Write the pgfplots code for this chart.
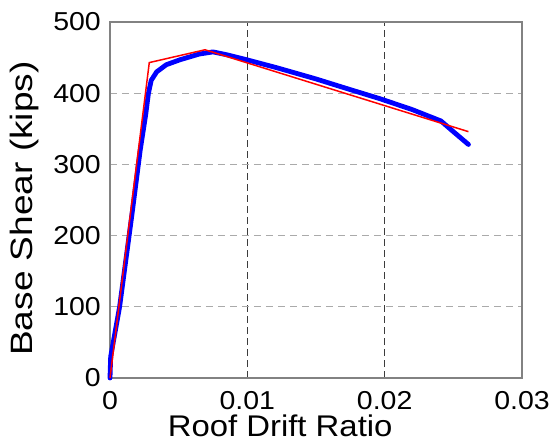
\documentclass[border=0pt]{standalone}
\usepackage{pgfplots}
\pgfplotsset{compat=1.18}
\usepackage{fontspec}
\setmainfont{Liberation Sans}[FakeStretch=1.1]
\newfontfamily\widesans{Liberation Sans}[FakeStretch=1.2]

\definecolor{framegray}{RGB}{130,130,130}
\definecolor{vgrid}{RGB}{60,60,60}
\definecolor{hgrid}{RGB}{170,170,170}

\begin{document}
\begin{tikzpicture}
\path[use as bounding box] (-110bp,-69bp) rectangle (444bp,378bp);
\begin{axis}[
  at={(0,0)}, anchor=south west,
  scale only axis,
  width=412bp, height=356bp,
  xmin=0, xmax=0.03, ymin=0, ymax=500,
  xtick={0,0.01,0.02,0.03},
  xticklabels={0,0.01,0.02,0.03},
  scaled x ticks=false,
  ytick={0,100,200,300,400,500},
  /pgf/number format/assume math mode=true,
  major tick length=0pt,
  axis line style={framegray, line width=1.2bp},
  grid=major,
  x grid style={vgrid, line width=1bp, dash pattern=on 7bp off 4bp},
  y grid style={hgrid, line width=1.1bp, dash pattern=on 7bp off 5bp},
  tick label style={font=\fontsize{26}{30}\selectfont, text=black},
  xticklabel style={anchor=north, inner sep=0pt, yshift=-13bp},
  yticklabel style={anchor=east, inner sep=0pt, xshift=-9bp},
  xlabel={Roof Drift Ratio},
  ylabel={Base Shear (kips)},
  xlabel style={font=\fontsize{30}{34}\selectfont, at={(axis description cs:0.413,0)}, anchor=base, yshift=-58bp},
  ylabel style={font=\widesans\fontsize{31}{35}\selectfont, at={([xshift=-77bp]axis description cs:0,0.476)}, anchor=base},
  clip=false,
]
% analysis pushover curve
\addplot[blue, line width=4.8bp, line join=round, line cap=round] coordinates {
  (0,0) (0.00005,30) (0.0007,100) (0.0016,230) (0.0022,320) (0.0026,370)
  (0.0028,400) (0.0030,418) (0.0034,430) (0.0041,440) (0.0051,447)
  (0.0065,455) (0.0075,458) (0.0085,454) (0.00995,447) (0.0121,436)
  (0.015,420) (0.0175,405) (0.0197,392) (0.022,377) (0.0241,361)
  (0.025,346) (0.0261,328)
};
% idealized trilinear fit
\addplot[red, line width=1.5bp, line join=miter] coordinates {
  (0,0) (0.00286,443) (0.00692,461) (0.0261,346)
};
\end{axis}
\end{tikzpicture}
\end{document}
